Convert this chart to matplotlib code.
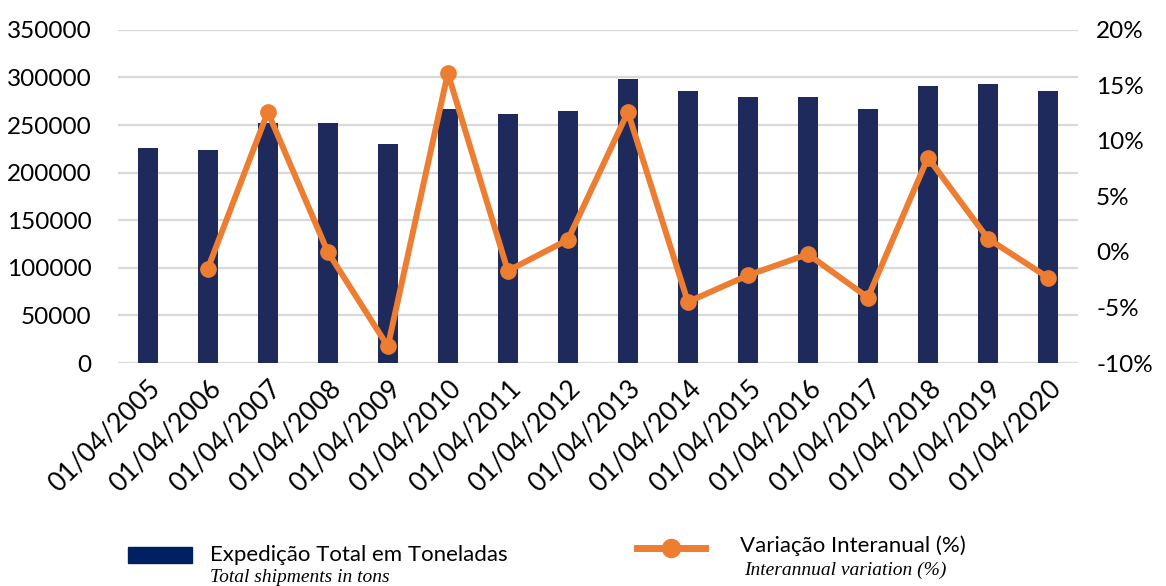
import matplotlib.pyplot as plt
from matplotlib.lines import Line2D
from matplotlib.patches import Rectangle

years = ["01/04/2005", "01/04/2006", "01/04/2007", "01/04/2008", "01/04/2009",
         "01/04/2010", "01/04/2011", "01/04/2012", "01/04/2013", "01/04/2014",
         "01/04/2015", "01/04/2016", "01/04/2017", "01/04/2018", "01/04/2019",
         "01/04/2020"]
shipments = [225500, 223500, 252500, 252500, 230500, 266500, 262000, 264500,
             298000, 286000, 279000, 279000, 266500, 291000, 293500, 286000]
variation = [None, -1.5, 12.6, 0.0, -8.5, 16.1, -1.7, 1.1, 12.6, -4.5,
             -2.1, -0.2, -4.1, 8.5, 1.2, -2.3]

bar_color = "#1F2A5C"
line_color = "#ED7D31"
font = "Lato"

fig = plt.figure(figsize=(11.66, 5.86), dpi=100)
ax = fig.add_axes([0.101, 0.3805, 0.8235, 0.5685])
ax2 = ax.twinx()

x = list(range(len(years)))
ax.bar(x, shipments, width=0.34, color=bar_color, zorder=2)
ax.set_ylim(0, 350000)
ax.set_yticks(range(0, 350001, 50000))
ax.set_xlim(-0.5, len(years) - 0.5)
ax.grid(axis="y", color="#D9D9D9", linewidth=1.6, zorder=0)
ax.set_axisbelow(True)
ax.set_xticks(x)
ax.set_xticklabels(years, rotation=45, ha="right", rotation_mode="anchor",
                   fontsize=19, family=font)
for lab in ax.get_yticklabels():
    lab.set_fontsize(17.5)
    lab.set_family(font)
ax.tick_params(axis="y", length=0, pad=19)
ax.tick_params(axis="x", length=0, pad=9)

xs = [i for i, v in zip(x, variation) if v is not None]
vs = [v for v in variation if v is not None]
ax2.plot(xs, vs, color=line_color, linewidth=4.3, marker="o", markersize=11,
         zorder=3)
ax2.set_ylim(-10, 20)
ax2.set_yticks(range(-10, 21, 5))
ax2.set_yticklabels([f"{t}%" for t in range(-10, 21, 5)], fontsize=17.5,
                    family=font)
ax2.tick_params(length=0, pad=13)

for a in (ax, ax2):
    for s in a.spines.values():
        s.set_visible(False)

# legend
fig.patches.append(Rectangle((128 / 1166, 1 - 563 / 586), 64 / 1166, 16 / 586,
                             transform=fig.transFigure, color="#002060"))
fig.text(210 / 1166, 1 - 555 / 586, "Expedição Total em Toneladas",
         fontsize=16, family=font, va="center")
fig.text(210 / 1166, 1 - 577 / 586, "Total shipments in tons",
         fontsize=14, family="Liberation Serif", style="italic", va="center")
fig.lines.append(Line2D([637 / 1166, 705 / 1166], [1 - 548 / 586] * 2,
                        transform=fig.transFigure, color=line_color,
                        linewidth=5))
fig.lines.append(Line2D([671 / 1166], [1 - 548 / 586], transform=fig.transFigure,
                        color=line_color, marker="o", markersize=13))
fig.text(740 / 1166, 1 - 546 / 586, "Variação Interanual (%)",
         fontsize=16, family=font, va="center")
fig.text(744 / 1166, 1 - 570 / 586, "Interannual variation (%)",
         fontsize=14, family="Liberation Serif", style="italic", va="center")

fig.savefig("out.png", dpi=100)
